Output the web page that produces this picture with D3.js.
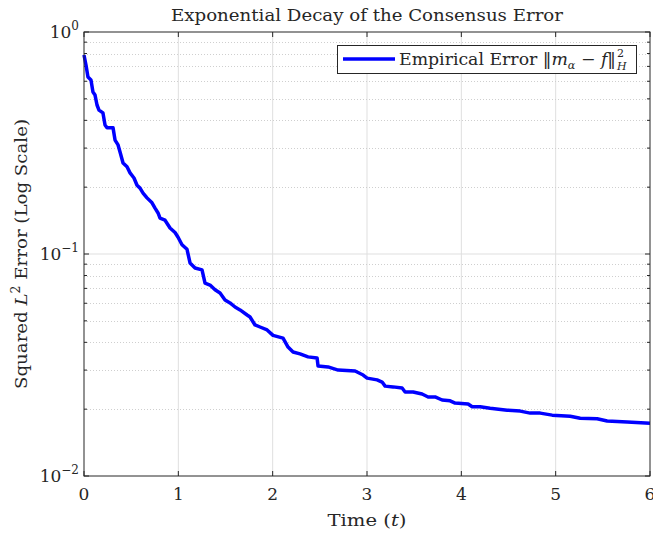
<!DOCTYPE html>
<html><head><meta charset="utf-8">
<script src="https://cdn.jsdelivr.net/npm/d3@7"></script>
<style>body{margin:0;background:#fff}svg{display:block}text{font-family:"DejaVu Serif",serif;fill:#262626}</style>
</head><body>
<svg id="c" width="653" height="533"></svg>
<script>
const timeValues = [0,0.021,0.042,0.074,0.095,0.117,0.138,0.159,0.201,0.223,0.244,0.308,0.329,0.361,0.382,
0.414,0.456,0.488,0.530,0.562,0.594,0.626,0.668,0.721,0.753,0.785,0.806,0.859,0.912,0.965,0.997,1.039,1.092,
1.124,1.177,1.251,1.283,1.336,1.389,1.442,1.495,1.548,1.601,1.654,1.729,1.760,1.813,1.866,1.941,2.004,2.110,
2.163,2.216,2.290,2.375,2.471,2.481,2.587,2.694,2.874,2.959,3.001,3.107,3.160,3.192,3.277,3.372,3.404,3.489,
3.584,3.648,3.722,3.796,3.881,3.934,4.072,4.115,4.199,4.305,4.486,4.624,4.730,4.836,4.963,5.154,5.260,5.440,
5.546,5.758,6.0];
const errorValues = [0.788,0.710,0.627,0.608,0.537,0.520,0.469,0.445,0.432,0.381,0.370,0.370,0.326,0.310,0.288,
0.257,0.247,0.232,0.220,0.204,0.198,0.188,0.179,0.170,0.161,0.153,0.145,0.142,0.131,0.125,0.119,0.110,0.105,
0.0911,0.0865,0.0848,0.0740,0.0725,0.0690,0.0667,0.0621,0.0602,0.0577,0.0560,0.0531,0.0520,0.0479,0.0469,0.0455,0.0430,0.0418,
0.0381,0.0362,0.0355,0.0344,0.0340,0.0313,0.0310,0.0300,0.0297,0.0285,0.0276,0.0271,0.0265,0.0254,0.0252,0.0249,0.0239,0.0239,
0.0234,0.0227,0.0227,0.0220,0.0218,0.0213,0.0211,0.0205,0.0205,0.0202,0.0198,0.0196,0.0192,0.0192,0.0188,0.0186,0.0182,0.0181,
0.0177,0.0175,0.0173];
const xTicks = [0,1,2,3,4,5,6];
const yDecades = [1,0.1,0.01];
const yDecadeExp = ["0","\u22121","\u22122"];

const svg = d3.select("#c");
const L=84,R=650,T=32,B=476;
const x = d3.scaleLinear().domain([0,6]).range([L,R]);
const y = d3.scaleLog().domain([0.01,1]).range([B,T]);
const minor = [];
[0.01,0.1].forEach(d=>{for(let k=2;k<=9;k++) minor.push(d*k);});

const g = svg.append("g");
g.selectAll(".vg").data(xTicks.slice(1,-1)).join("line")
 .attr("x1",d=>x(d)).attr("x2",d=>x(d)).attr("y1",T).attr("y2",B)
 .attr("stroke","#dfdfdf").attr("stroke-width",1);
g.selectAll(".mg").data(minor).join("line")
 .attr("x1",L).attr("x2",R).attr("y1",d=>Math.round(y(d))+0.5).attr("y2",d=>Math.round(y(d))+0.5)
 .attr("stroke","#cfcfcf").attr("stroke-width",1).attr("stroke-dasharray","1,2");
g.selectAll(".hg").data([0.1]).join("line")
 .attr("x1",L).attr("x2",R).attr("y1",d=>y(d)).attr("y2",d=>y(d))
 .attr("stroke","#dfdfdf").attr("stroke-width",1);

const tk = svg.append("g").attr("stroke","#262626").attr("stroke-width",1);
xTicks.forEach(d=>{
  tk.append("line").attr("x1",x(d)).attr("x2",x(d)).attr("y1",B).attr("y2",B-5);
  tk.append("line").attr("x1",x(d)).attr("x2",x(d)).attr("y1",T).attr("y2",T+5);
});
yDecades.forEach(d=>{
  tk.append("line").attr("x1",L).attr("x2",L+5).attr("y1",y(d)).attr("y2",y(d));
  tk.append("line").attr("x1",R).attr("x2",R-5).attr("y1",y(d)).attr("y2",y(d));
});
minor.forEach(d=>{
  tk.append("line").attr("x1",L).attr("x2",L+3).attr("y1",y(d)).attr("y2",y(d));
  tk.append("line").attr("x1",R).attr("x2",R-3).attr("y1",y(d)).attr("y2",y(d));
});

const data = timeValues.map((t,i)=>({t, v:errorValues[i]}));
svg.append("path").datum(data)
 .attr("d", d3.line().x(d=>x(d.t)).y(d=>y(d.v)))
 .attr("fill","none").attr("stroke","#0000ff").attr("stroke-width",3.5)
 .attr("stroke-linejoin","round");

svg.append("rect").attr("x",L).attr("y",T).attr("width",R-L).attr("height",B-T)
 .attr("fill","none").attr("stroke","#262626").attr("stroke-width",1);

svg.selectAll(".xl").data(xTicks).join("text")
 .attr("x",d=>x(d)).attr("y",500).attr("text-anchor","middle").attr("font-size",17).text(d=>d);

yDecades.forEach((d,i)=>{
  const t = svg.append("text").attr("x",79).attr("y",y(d)+6).attr("text-anchor","end").attr("font-size",17);
  t.append("tspan").text("10");
  t.append("tspan").attr("font-size",12).attr("dy",-8).text(yDecadeExp[i]);
});

svg.append("text").attr("x",367).attr("y",21).attr("text-anchor","middle").attr("font-size",17.5)
 .attr("textLength",392).attr("lengthAdjust","spacingAndGlyphs")
 .text("Exponential Decay of the Consensus Error");

const xl = svg.append("text").attr("x",367).attr("y",526).attr("text-anchor","middle").attr("font-size",17.5)
 .attr("textLength",79).attr("lengthAdjust","spacingAndGlyphs");
xl.append("tspan").text("Time (");
xl.append("tspan").attr("font-style","italic").text("t");
xl.append("tspan").text(")");

const yl = svg.append("text").attr("transform","translate(27,254) rotate(-90)").attr("text-anchor","middle").attr("font-size",17.5)
 .attr("textLength",270).attr("lengthAdjust","spacingAndGlyphs");
yl.append("tspan").text("Squared ");
yl.append("tspan").attr("font-style","italic").text("L");
yl.append("tspan").attr("font-size",12).attr("dy",-7).text("2");
yl.append("tspan").attr("dy",7).text(" Error (Log Scale)");

const lg = svg.append("g");
lg.append("rect").attr("x",337.5).attr("y",45.5).attr("width",299).attr("height",28)
 .attr("fill","#fff").attr("stroke","#262626").attr("stroke-width",1);
lg.append("line").attr("x1",343).attr("x2",395).attr("y1",59).attr("y2",59)
 .attr("stroke","#0000ff").attr("stroke-width",3.5);
const lt = lg.append("text").attr("x",399).attr("y",65).attr("font-size",17)
 .attr("textLength",217).attr("lengthAdjust","spacingAndGlyphs");
lt.append("tspan").text("Empirical Error \u2016");
lt.append("tspan").attr("font-style","italic").text("m");
lt.append("tspan").attr("font-style","italic").attr("font-size",11).attr("dy",4).text("\u03b1");
lt.append("tspan").attr("dy",-4).text(" \u2212 ");
lt.append("tspan").attr("font-style","italic").text("f");
lt.append("tspan").text("\u2016");
const endX = 399 + 217 + 1;
lg.append("text").attr("x",endX).attr("y",57).attr("font-size",11).text("2");
lg.append("text").attr("x",endX).attr("y",70).attr("font-size",11).attr("font-style","italic").text("H");
</script>
</body></html>
